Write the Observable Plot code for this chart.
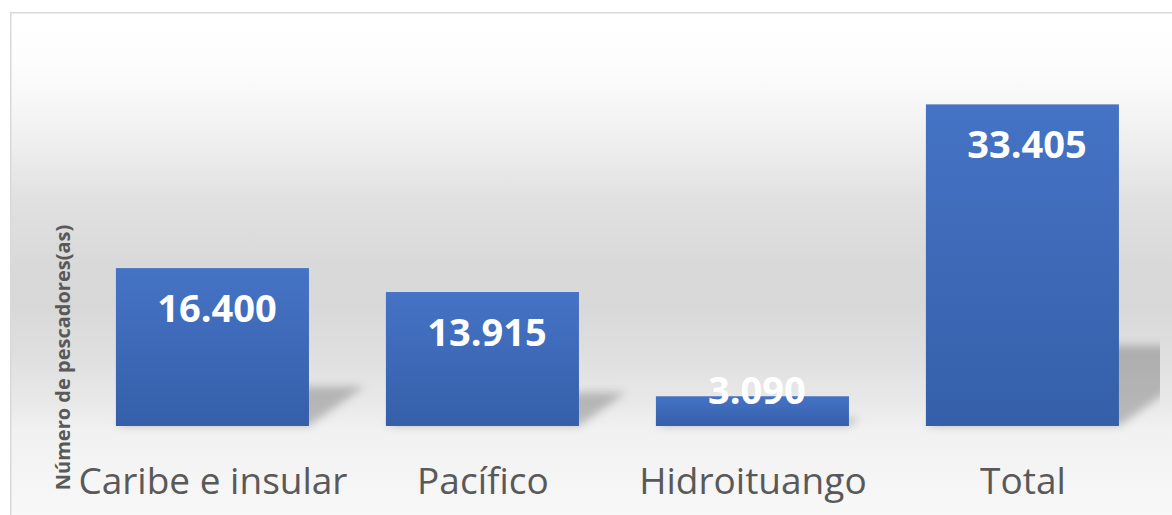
<!DOCTYPE html>
<html><head><meta charset="utf-8">
<script src="https://cdn.jsdelivr.net/npm/d3@7"></script>
<script src="https://cdn.jsdelivr.net/npm/@observablehq/plot@0.6"></script>
<style>body{margin:0;background:#fff;}</style>
</head><body><div id="chart"></div>
<script>
const categories = ["Caribe e insular", "Pacífico", "Hidroituango", "Total"];
const values = [16400, 13915, 3090, 33405];
const valueLabels = ["16.400", "13.915", "3.090", "33.405"];
const yAxisTitle = "Número de pescadores(as)";
const yMax = 43000;

const data = categories.map((c, i) => ({category: c, value: values[i], label: valueLabels[i]}));

const W = 1172, H = 515;
const NS = "http://www.w3.org/2000/svg";
function el(name, attrs = {}) {
  const e = document.createElementNS(NS, name);
  for (const k in attrs) e.setAttribute(k, attrs[k]);
  return e;
}
function gradient(id, stops) {
  const g = el("linearGradient", {id, x1: 0, y1: 0, x2: 0, y2: 1});
  for (const [o, c] of stops) g.appendChild(el("stop", {offset: o, "stop-color": c}));
  return g;
}

const background = (index, scales, vals, dims) => {
  const g = el("g");
  const defs = el("defs");
  defs.appendChild(gradient("bgGrad", [
    ["0%", "#ffffff"], ["10%", "#fdfdfd"], ["18%", "#f7f7f7"], ["28%", "#ececec"],
    ["37%", "#e1e1e1"], ["50%", "#d9d9d9"], ["58%", "#d8d8d8"], ["68%", "#dfdfdf"],
    ["78%", "#e9e9e9"], ["83%", "#f1f1f1"], ["100%", "#f8f8f8"]
  ]));
  defs.appendChild(gradient("barGrad", [["0%", "#4573c5"], ["100%", "#355fa9"]]));
  const f = el("filter", {id: "shadowBlur", x: "-50%", y: "-50%", width: "200%", height: "200%"});
  f.appendChild(el("feGaussianBlur", {stdDeviation: 4.5}));
  defs.appendChild(f);
  const clip = el("clipPath", {id: "plotClip"});
  clip.appendChild(el("rect", {x: dims.marginLeft, y: dims.marginTop, width: 1160 - dims.marginLeft, height: H - dims.marginTop}));
  defs.appendChild(clip);
  g.appendChild(defs);
  const x0 = dims.marginLeft - 1.25, y0 = dims.marginTop + 0.75;
  g.appendChild(el("rect", {x: x0, y: y0, width: dims.width - x0, height: dims.height - y0, fill: "url(#bgGrad)"}));
  g.appendChild(el("path", {d: `M${x0},${dims.height}V${y0}H${dims.width}`, fill: "none", stroke: "#d9d9d9", "stroke-width": 1.5}));
  return g;
};

const shadows = (index, scales, vals, dims) => {
  const g = el("g", {"clip-path": "url(#plotClip)"});
  const inner = el("g", {filter: "url(#shadowBlur)"});
  const bw = typeof scales.x.bandwidth === "function" ? scales.x.bandwidth() : scales.x.bandwidth;
  for (const d of data) {
    const xl = scales.x(d.category), xr = xl + bw;
    const yb = scales.y(0), yt = scales.y(d.value);
    const sh = 0.25 * (yb - yt), s = 1.4 * sh;
    inner.appendChild(el("polygon", {
      points: `${xl},${yb} ${xr},${yb} ${xr + s},${yb - sh} ${xl + s},${yb - sh}`,
      fill: "#000", "fill-opacity": 0.22
    }));
  }
  g.appendChild(inner);
  return g;
};

const chart = Plot.plot({
  width: W,
  height: H,
  marginLeft: 12,
  marginRight: 0,
  marginTop: 12,
  marginBottom: 89,
  style: {fontFamily: "'Open Sans', sans-serif", background: "white", overflow: "visible"},
  x: {domain: categories, paddingInner: 0.285, paddingOuter: 0.2907, align: 0.662, round: false, axis: null},
  y: {domain: [0, yMax], axis: null},
  marks: [
    background,
    shadows,
    Plot.barY(data, {x: "category", y: "value", fill: "url(#barGrad)"}),
    Plot.text(data.filter(d => d.value >= 5000), {x: "category", y: "value", text: "label", fill: "white", fontSize: 38, fontWeight: "bold", lineAnchor: "bottom", dx: 4, dy: 53}),
    Plot.text(data.filter(d => d.value < 5000), {x: "category", y: "value", text: "label", fill: "white", fontSize: 38, fontWeight: "bold", lineAnchor: "bottom", dx: 4, dy: 7}),
    Plot.text(data, {x: "category", text: "category", frameAnchor: "bottom", lineAnchor: "bottom", dy: 67, fontSize: 37, fill: "#595959"}),
    Plot.text([yAxisTitle], {text: d => d, frameAnchor: "left", textAnchor: "middle", rotate: -90, dx: 51, dy: 138, fontSize: 20, fontWeight: "bold", fill: "#595959"})
  ]
});
document.getElementById("chart").appendChild(chart);
</script>
</body></html>
